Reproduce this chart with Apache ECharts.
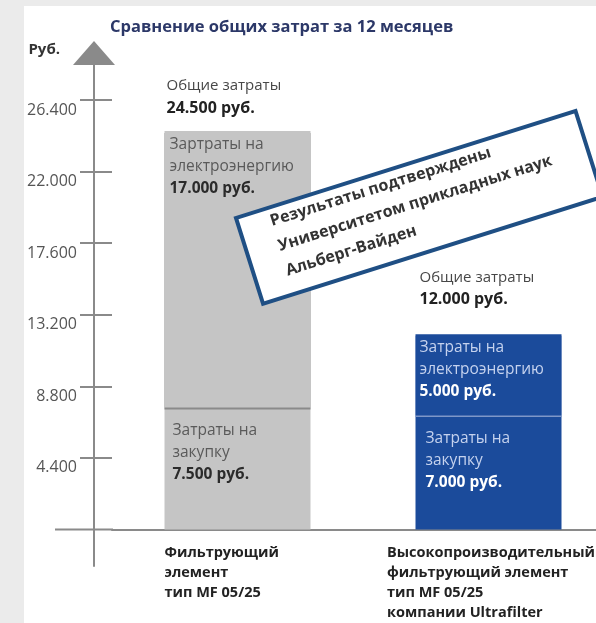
<!DOCTYPE html>
<html><head><meta charset="utf-8">
<script src="https://cdn.jsdelivr.net/npm/echarts@6/dist/echarts.min.js"></script>
<style>html,body{margin:0;padding:0;background:#ebebeb}#c{width:596px;height:623px}</style>
</head><body><div id="c"></div>
<script>
const titleText = 'Сравнение общих затрат за 12 месяцев';
const unitName = 'Руб.';
const categories = ['Фильтрующий\nэлемент\nтип MF 05/25', 'Высокопроизводительный\nфильтрующий элемент\nтип MF 05/25\nкомпании Ultrafilter'];
const purchaseCost = [7500, 7000];
const energyCost = [17000, 5000];
const totalCost = [24500, 12000];
const yTicks = [4400, 8800, 13200, 17600, 22000, 26400];
const yTickLabels = ['4.400', '8.800', '13.200', '17.600', '22.000', '26.400'];
const energyLabels = ['Зартраты на\nэлектроэнергию', 'Затраты на\nэлектроэнергию'];
const purchaseLabels = ['Затраты на\nзакупку', 'Затраты на\nзакупку'];
const totalLabel = 'Общие затраты';
const noteLines = ['Результаты подтверждены', 'Университетом прикладных наук', 'Альберг-Вайден'];

const FONT = "'Open Sans', 'Noto Sans', sans-serif";
const fmt = v => String(v).replace(/\B(?=(\d{3})+(?!\d))/g, '.');
const rt = (style, text) => text.split('\n').map(s => '{' + style + '|' + s + '}').join('\n');

const barColors = ['#c5c5c5', '#1b4b9b'];
const dividerColors = ['#8a8a8a', '#7e97c8'];

const chart = echarts.init(document.getElementById('c'));
const axisGray = '#8a8a8a';

const barRich = {
  t0: { color: '#5a5a5a', fontFamily: FONT, fontSize: 15.5, lineHeight: 22 },
  v0: { color: '#2b2b2b', fontFamily: FONT, fontSize: 15.5, fontWeight: 'bold', lineHeight: 22 },
  t1: { color: '#c5d2ee', fontFamily: FONT, fontSize: 15.5, lineHeight: 22 },
  v1: { color: '#ffffff', fontFamily: FONT, fontSize: 15.5, fontWeight: 'bold', lineHeight: 22 }
};

// rotated note box (decoration); each text line is placed by its centre along the rotated box
const noteX = 236, noteY = 218, noteAngle = 17.5 * Math.PI / 180;
const nc = Math.cos(noteAngle), ns = Math.sin(noteAngle);
const noteFont = "bold 16px 'Open Sans', 'Noto Sans', sans-serif";
const mctx = document.createElement('canvas').getContext('2d');
mctx.font = noteFont;
const noteTexts = noteLines.map((line, k) => {
  const w = mctx.measureText(line).width;
  const lx = 32 + w / 2, ly = 14 + 26 * k;
  return {
    id: 'noteLine' + k, type: 'text', z: 101, silent: true,
    x: noteX + lx * nc + ly * ns, y: noteY - lx * ns + ly * nc, rotation: noteAngle,
    style: { text: line, font: noteFont, fill: '#333', align: 'center', verticalAlign: 'middle' }
  };
});

const option = {
  animation: false,
  textStyle: { fontFamily: FONT },
  title: {
    text: titleText, left: 110, top: 17, padding: 0,
    textStyle: { fontFamily: FONT, fontSize: 16.5, fontWeight: 'bold', color: '#2c3868', lineHeight: 20 }
  },
  grid: { left: 112, width: 502, top: 53, bottom: 57, containLabel: false, outerBoundsMode: 'none' },
  xAxis: {
    type: 'category',
    data: categories,
    axisLine: { onZero: true, lineStyle: { color: axisGray, width: 2 } },
    axisTick: { show: false },
    axisLabel: {
      interval: 0, margin: -23,
      formatter: (v, i) => rt('c' + i, v),
      rich: {
        c0: { width: 146, align: 'left', fontFamily: FONT, fontSize: 14.5, fontWeight: 'bold', color: '#222', lineHeight: 20 },
        c1: { width: 203, align: 'left', fontFamily: FONT, fontSize: 14.5, fontWeight: 'bold', color: '#222', lineHeight: 20 }
      }
    }
  },
  yAxis: [{
    type: 'value', min: -2250, max: 29300, position: 'left', offset: 18,
    name: unitName, nameLocation: 'end', nameGap: 3,
    nameTextStyle: { fontFamily: FONT, fontSize: 15, fontWeight: 'bold', color: '#333', align: 'right', verticalAlign: 'middle', padding: [0, 34, 0, 0] },
    axisLine: { show: true, symbol: ['none', 'triangle'], symbolSize: [42, 24], lineStyle: { color: axisGray, width: 2 } },
    axisTick: { show: true, length: 14, customValues: yTicks, lineStyle: { color: axisGray, width: 2 } },
    axisLabel: {
      customValues: yTicks, margin: 17, verticalAlign: 'top', padding: [2, 0, 0, 0],
      formatter: v => yTickLabels[yTicks.indexOf(v)] || '',
      fontFamily: FONT, fontSize: 16, color: '#555'
    },
    splitLine: { show: false }
  }, {
    type: 'value', min: -2250, max: 29300, position: 'left', offset: 18,
    axisLine: { show: false },
    axisTick: { show: true, inside: true, length: 18, customValues: yTicks, lineStyle: { color: axisGray, width: 2 } },
    axisLabel: { show: false },
    splitLine: { show: false }
  }],
  series: [{
    name: 'purchase', type: 'bar', stack: 'cost', barWidth: 146,
    emphasis: { disabled: true },
    data: purchaseCost.map((v, i) => ({
      value: v,
      itemStyle: { color: barColors[i] },
      label: { offset: i === 0 ? [3, 7] : [5, 7] }
    })),
    label: {
      show: true, position: 'insideTopLeft',
      formatter: p => rt('t' + p.dataIndex, purchaseLabels[p.dataIndex]) + '\n{v' + p.dataIndex + '|' + fmt(p.value) + ' руб.}',
      rich: barRich
    }
  }, {
    name: 'energy', type: 'bar', stack: 'cost', barWidth: 146,
    emphasis: { disabled: true },
    data: energyCost.map((v, i) => ({
      value: v,
      itemStyle: { color: barColors[i], shadowColor: dividerColors[i], shadowOffsetY: i === 0 ? 2 : 1.5, shadowBlur: 0 },
      label: { offset: i === 0 ? [0, -2] : [-1, -3] }
    })),
    label: {
      show: true, position: 'insideTopLeft',
      formatter: p => rt('t' + p.dataIndex, energyLabels[p.dataIndex]) + '\n{v' + p.dataIndex + '|' + fmt(p.value) + ' руб.}',
      rich: barRich
    }
  }, {
    name: 'total', type: 'bar', barWidth: 146, barGap: '-100%',
    emphasis: { disabled: true }, silent: true,
    itemStyle: { color: 'rgba(0,0,0,0)' },
    data: totalCost.map((v, i) => ({
      value: v,
      label: { offset: i === 0 ? [-3, -61] : [-1, -73] }
    })),
    label: {
      show: true, position: 'insideTopLeft',
      formatter: p => '{n|' + totalLabel + '}\n{m|' + fmt(p.value) + ' руб.}',
      rich: {
        n: { color: '#474747', fontFamily: FONT, fontSize: 15, lineHeight: 22 },
        m: { color: '#222', fontFamily: FONT, fontSize: 16, fontWeight: 'bold', lineHeight: 22 }
      }
    }
  }],
  graphic: [
    { id: 'panel', type: 'rect', z: -10, silent: true, shape: { x: 24, y: 6, width: 572, height: 617 }, style: { fill: '#ffffff' } },
    { id: 'noteBox', type: 'rect', z: 100, silent: true, x: noteX, y: noteY, rotation: noteAngle, originX: 0, originY: 0,
      shape: { x: 0, y: 0, width: 356, height: 90 }, style: { fill: '#ffffff', stroke: '#1f4f84', lineWidth: 4 } }
  ].concat(noteTexts)
};
chart.setOption(option);
const y0 = chart.convertToPixel({ yAxisIndex: 0 }, 0);
chart.setOption({
  graphic: [{ id: 'xext', type: 'line', z: 5, silent: true, shape: { x1: 55, y1: y0, x2: 113, y2: y0 }, style: { stroke: axisGray, lineWidth: 2 } }]
});
</script></body></html>
